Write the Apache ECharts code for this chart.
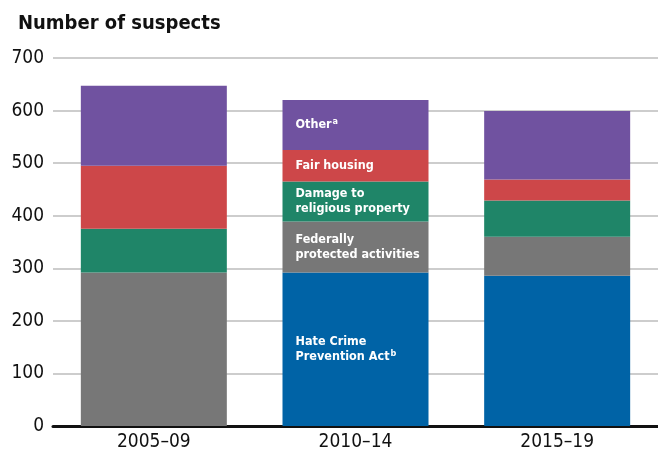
<!DOCTYPE html>
<html>
<head>
<meta charset="utf-8">
<script src="https://cdn.jsdelivr.net/npm/echarts@6/dist/echarts.min.js"></script>
<style>
  html, body { margin: 0; padding: 0; background: #fff; }
  #chart { width: 658px; height: 454px; }
</style>
</head>
<body>
<div id="chart"></div>
<script>
const FONT = '"Liberation Sans Narrow", "DejaVu Sans Condensed", "Roboto Condensed", sans-serif';

const periods = ['2005–09', '2010–14', '2015–19'];
const hateCrimeAct = [0, 292, 286];
const federallyProtected = [292, 97, 74];
const religiousProperty = [83, 76, 69];
const fairHousing = [120, 60, 40];
const other = [152, 95, 130];

const LABEL_BAR = 1; // labels sit only on the 2010–14 bar

const seriesDefs = [
  { name: 'Hate Crime Prevention Act', data: hateCrimeAct, color: '#0063a6', label: 'Hate Crime\nPrevention Act{sup|b}' },
  { name: 'Federally protected activities', data: federallyProtected, color: '#777777', label: 'Federally\nprotected activities' },
  { name: 'Damage to religious property', data: religiousProperty, color: '#1f8568', label: 'Damage to\nreligious property' },
  { name: 'Fair housing', data: fairHousing, color: '#cd4749', label: 'Fair housing' },
  { name: 'Other', data: other, color: '#7052a0', label: 'Other{sup|a}' }
];

const chart = echarts.init(document.getElementById('chart'));

chart.setOption({
  animation: false,
  title: {
    text: 'Number of suspects',
    left: 13,
    top: 9,
    textStyle: { fontFamily: FONT, fontSize: 20, fontWeight: 'bold', color: '#111' }
  },
  grid: { left: 53, right: -2, top: 58, bottom: 28 },
  xAxis: {
    type: 'category',
    data: periods,
    axisTick: { show: false },
    axisLine: { lineStyle: { color: '#111', width: 3 } },
    axisLabel: { fontFamily: FONT, fontSize: 19, color: '#111', margin: 7 }
  },
  yAxis: {
    type: 'value',
    min: 0,
    max: 700,
    interval: 100,
    axisLine: { show: false },
    axisTick: { show: false },
    axisLabel: { fontFamily: FONT, fontSize: 19, color: '#111', margin: 9 },
    splitLine: { lineStyle: { color: '#bdbdbd', width: 1.5 } }
  },
  series: seriesDefs.map((s) => ({
    name: s.name,
    type: 'bar',
    stack: 'total',
    barWidth: 146,
    itemStyle: { color: s.color },
    data: s.data.map((v, i) => i === LABEL_BAR
      ? {
          value: v,
          label: {
            show: true,
            position: 'insideLeft',
            distance: 13,
            formatter: s.label,
            color: '#fff',
            fontFamily: FONT,
            fontWeight: 'bold',
            fontSize: 12.5,
            lineHeight: 15,
            rich: {
              sup: { fontFamily: FONT, fontWeight: 'bold', fontSize: 9, color: '#fff', lineHeight: 15, padding: [0, 0, 7, 1] }
            }
          }
        }
      : v)
  }))
});
</script>
</body>
</html>
